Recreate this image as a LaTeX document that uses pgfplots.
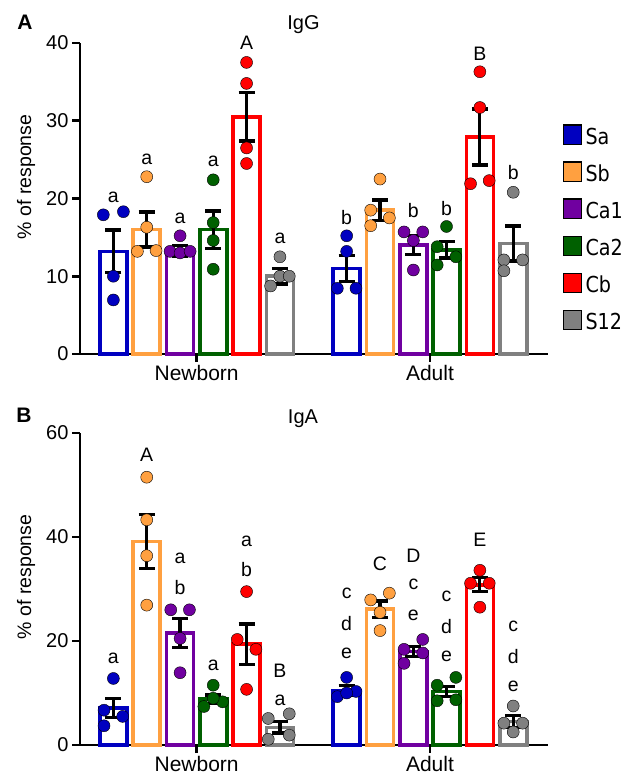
\documentclass[border=0pt]{standalone}
\usepackage{fontspec}
\setmainfont{Liberation Sans}
\newfontfamily\legfont{DejaVu Sans}[FakeStretch=0.87]
\usepackage{pgfplots}
\pgfplotsset{compat=1.18}
\definecolor{cSa}{RGB}{0,0,192}
\definecolor{cSb}{RGB}{255,160,64}
\definecolor{cCaA}{RGB}{112,0,160}
\definecolor{cCaB}{RGB}{0,96,0}
\definecolor{cCb}{RGB}{255,0,0}
\definecolor{cSt}{RGB}{128,128,128}
\tikzset{lbl/.style={font=\fontsize{19.5}{22}\selectfont, inner sep=0pt}}
\pgfplotsset{
  panel/.style={
    scale only axis, width=468pt, xmin=-0.5, xmax=1.506, ymin=0,
    axis x line*=bottom, axis y line*=left,
    axis line style={line width=2.6pt,-},
    xtick={0,1}, xticklabels={Newborn,Adult},
    tick style={line width=2.6pt,black},
    major tick length=8pt, tick align=outside,
    xticklabel style={font=\fontsize{21}{24}\selectfont},
    yticklabel style={font=\fontsize{20}{24}\selectfont},
    /pgf/number format/assume math mode=true,
    clip=false,
  },
  bars/.style={ybar, bar width=27pt, bar shift=0pt, draw=#1, fill=white, line width=3.6pt, forget plot},
  pts/.style={only marks, mark=*, mark size=6pt, mark options={draw=none,fill=#1}, forget plot},
  errs/.style={forget plot, draw=none, mark=none,
    error bars/.cd, y dir=both, y explicit,
    error bar style={draw=black,line width=3.2pt},
    error mark options={draw=black,line width=3.2pt,mark size=8pt,rotate=90}},
  legsq/.style={legend image code/.code={\draw[fill=#1,draw=black,line width=1.3pt] (0pt,-0.5pt) rectangle (18pt,19pt);}},
}
\begin{document}
\begin{tikzpicture}
\useasboundingbox (0,0) rectangle (629pt,775pt);
% ---------------- Panel A: IgG ----------------
\begin{axis}[panel, at={(80pt,421pt)}, anchor=south west, height=311pt,
  ymax=40, ytick={0,10,20,30,40},
  legend style={at={(rel axis cs:1.0314,0.7383)}, anchor=north west, draw=none, fill=none,
    inner sep=0pt, outer sep=0pt,
    font=\legfont\fontsize{22}{26}\selectfont, row sep=15.4pt, column sep=3.5pt,
    nodes={inner sep=0pt, outer sep=0pt, text height=17pt, text depth=2pt},
    cells={anchor=base west}}]
\addplot[bars=cSa] coordinates {(-0.357,13.2) (0.643,11.0)};
\addplot[bars=cSb] coordinates {(-0.214,16.0) (0.786,18.5)};
\addplot[bars=cCaA] coordinates {(-0.071,13.3) (0.929,14.0)};
\addplot[bars=cCaB] coordinates {(0.071,16.0) (1.071,13.4)};
\addplot[bars=cCb] coordinates {(0.214,30.5) (1.214,27.9)};
\addplot[bars=cSt] coordinates {(0.357,10.0) (1.357,14.2)};
% individual values
\addplot[pts=cSa] coordinates {(-0.400,17.9) (-0.314,18.3) (-0.357,10.0) (-0.357,6.95)
  (0.643,15.2) (0.643,13.2) (0.603,8.45) (0.683,8.45)};
\addplot[pts=cSb] coordinates {(-0.214,22.8) (-0.214,16.3) (-0.254,13.2) (-0.174,13.3)
  (0.786,22.5) (0.746,18.5) (0.746,16.5) (0.826,17.5)};
\addplot[pts=cCaA] coordinates {(-0.071,15.2) (-0.114,13.2) (-0.071,13.0) (-0.028,13.2)
  (0.889,15.7) (0.969,15.7) (0.929,14.6) (0.929,10.8)};
\addplot[pts=cCaB] coordinates {(0.071,22.4) (0.071,16.9) (0.071,14.6) (0.071,10.9)
  (1.071,16.4) (1.031,13.8) (1.111,12.5) (1.031,11.45)};
\addplot[pts=cCb] coordinates {(0.214,37.5) (0.214,34.8) (0.214,26.5) (0.214,24.5)
  (1.214,36.3) (1.214,31.7) (1.174,21.9) (1.254,22.3)};
\addplot[pts=cSt] coordinates {(0.357,12.5) (0.317,8.75) (0.357,10.0) (0.397,10.0)
  (1.357,20.8) (1.317,12.1) (1.397,12.1) (1.317,10.7)};
% SEM
\addplot[errs] coordinates {
  (-0.357,13.2) +- (0,2.75) (0.643,11.0) +- (0,1.7)
  (-0.214,16.0) +- (0,2.25) (0.786,18.5) +- (0,1.3)
  (-0.071,13.3) +- (0,0.7) (0.929,14.0) +- (0,1.2)
  (0.071,16.0) +- (0,2.4) (1.071,13.4) +- (0,1.05)
  (0.214,30.5) +- (0,3.1) (1.214,27.9) +- (0,3.6)
  (0.357,10.0) +- (0,1.0) (1.357,14.2) +- (0,2.25)};
% letters
\node[lbl] at (axis cs:-0.357,20.2) {a};
\node[lbl] at (axis cs:-0.214,25.0) {a};
\node[lbl] at (axis cs:-0.071,17.5) {a};
\node[lbl] at (axis cs:0.071,24.8) {a};
\node[lbl] at (axis cs:0.214,40.0) {A};
\node[lbl] at (axis cs:0.357,14.9) {a};
\node[lbl] at (axis cs:0.643,17.6) {b};
\node[lbl] at (axis cs:0.929,18.5) {b};
\node[lbl] at (axis cs:1.071,18.7) {b};
\node[lbl] at (axis cs:1.214,38.6) {B};
\node[lbl] at (axis cs:1.357,23.3) {b};
% legend
\addlegendimage{legsq=cSa}
\addlegendentry{Sa}
\addlegendimage{legsq=cSb}
\addlegendentry{Sb}
\addlegendimage{legsq=cCaA}
\addlegendentry{Ca1}
\addlegendimage{legsq=cCaB}
\addlegendentry{Ca2}
\addlegendimage{legsq=cCb}
\addlegendentry{Cb}
\addlegendimage{legsq=cSt}
\addlegendentry{S12}
\end{axis}
% ---------------- Panel B: IgA ----------------
\begin{axis}[panel, at={(80pt,30pt)}, anchor=south west, height=312pt,
  ymax=60, ytick={0,20,40,60}]
\addplot[bars=cSa] coordinates {(-0.357,7.1) (0.643,10.5)};
\addplot[bars=cSb] coordinates {(-0.214,39.1) (0.786,26.1)};
\addplot[bars=cCaA] coordinates {(-0.071,21.5) (0.929,18.0)};
\addplot[bars=cCaB] coordinates {(0.071,8.8) (1.071,10.3)};
\addplot[bars=cCb] coordinates {(0.214,19.4) (1.214,30.8)};
\addplot[bars=cSt] coordinates {(0.357,3.4) (1.357,4.5)};
\addplot[pts=cSa] coordinates {(-0.357,12.8) (-0.397,6.7) (-0.317,5.5) (-0.397,3.7)
  (0.643,13.0) (0.603,9.3) (0.683,10.3) (0.643,10.0)};
\addplot[pts=cSb] coordinates {(-0.214,51.5) (-0.214,43.3) (-0.214,36.4) (-0.214,26.9)
  (0.746,27.9) (0.826,29.2) (0.786,22.0) (0.786,25.5)};
\addplot[pts=cCaA] coordinates {(-0.111,26.0) (-0.031,26.0) (-0.071,20.5) (-0.071,13.9)
  (0.969,20.3) (0.889,18.4) (0.889,15.7) (0.969,17.7)};
\addplot[pts=cCaB] coordinates {(0.071,11.5) (0.031,7.4) (0.111,8.3) (0.071,9.0)
  (1.111,13.0) (1.031,11.5) (1.111,8.7) (1.031,8.5)};
\addplot[pts=cCb] coordinates {(0.214,29.5) (0.174,20.3) (0.254,18.4) (0.214,10.7)
  (1.214,33.6) (1.174,31.1) (1.254,31.1) (1.214,26.5)};
\addplot[pts=cSt] coordinates {(0.397,6.0) (0.307,5.1) (0.397,1.9) (0.307,1.1)
  (1.357,7.5) (1.317,4.2) (1.397,4.2) (1.357,2.5)};
\addplot[errs] coordinates {
  (-0.357,7.1) +- (0,1.85) (0.643,10.5) +- (0,0.9)
  (-0.214,39.1) +- (0,5.2) (0.786,26.1) +- (0,1.6)
  (-0.071,21.5) +- (0,2.8) (0.929,18.0) +- (0,0.95)
  (0.071,8.8) +- (0,0.8) (1.071,10.3) +- (0,0.95)
  (0.214,19.4) +- (0,3.85) (1.214,30.8) +- (0,1.35)
  (0.357,3.4) +- (0,1.1) (1.357,4.5) +- (0,1.2)};
\node[lbl] at (axis cs:-0.357,16.7) {a};
\node[lbl] at (axis cs:-0.214,55.8) {A};
\node[lbl] at (axis cs:-0.071,35.9) {a};
\node[lbl] at (axis cs:-0.071,30.2) {b};
\node[lbl] at (axis cs:0.071,15.4) {a};
\node[lbl] at (axis cs:0.214,39.1) {a};
\node[lbl] at (axis cs:0.214,33.7) {b};
\node[lbl] at (axis cs:0.357,14.3) {B};
\node[lbl] at (axis cs:0.357,8.5) {a};
\node[lbl] at (axis cs:0.643,29.2) {c};
\node[lbl] at (axis cs:0.643,23.4) {d};
\node[lbl] at (axis cs:0.643,17.6) {e};
\node[lbl] at (axis cs:0.786,34.8) {C};
\node[lbl] at (axis cs:0.929,36.4) {D};
\node[lbl] at (axis cs:0.929,30.8) {c};
\node[lbl] at (axis cs:0.929,25.0) {e};
\node[lbl] at (axis cs:1.071,28.5) {c};
\node[lbl] at (axis cs:1.071,22.8) {d};
\node[lbl] at (axis cs:1.071,17.0) {e};
\node[lbl] at (axis cs:1.214,39.5) {E};
\node[lbl] at (axis cs:1.357,22.8) {c};
\node[lbl] at (axis cs:1.357,17.0) {d};
\node[lbl] at (axis cs:1.357,11.2) {e};
\end{axis}
% titles and labels
\node[anchor=base, font=\fontsize{20}{24}\selectfont, inner sep=0pt] at (303.5pt,745.7pt) {IgG};
\node[anchor=base, font=\fontsize{20}{24}\selectfont, inner sep=0pt] at (303pt,351pt) {IgA};
\node[anchor=base, font=\fontsize{21}{24}\selectfont\bfseries, inner sep=0pt] at (25pt,745pt) {A};
\node[anchor=base, font=\fontsize{21}{24}\selectfont\bfseries, inner sep=0pt] at (24pt,352pt) {B};
\node[rotate=90, font=\fontsize{19.5}{24}\selectfont, inner sep=0pt] at (26pt,598pt) {\% of response};
\node[rotate=90, font=\fontsize{19.5}{24}\selectfont, inner sep=0pt] at (26pt,198pt) {\% of response};
\end{tikzpicture}
\end{document}
